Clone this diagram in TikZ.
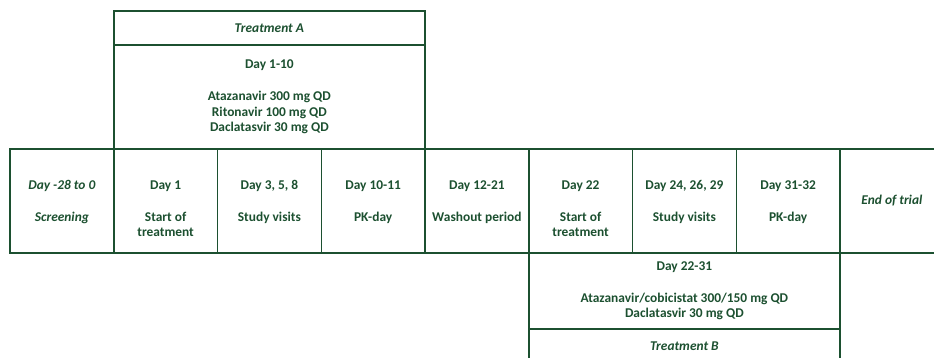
\documentclass[tikz,border=0pt]{standalone}
\usepackage{fontspec}
\setmainfont{Carlito}
\usetikzlibrary{positioning}
\definecolor{trialgreen}{RGB}{28,80,48}

\begin{document}
\begin{tikzpicture}[x=1pt,y=1pt,
    every node/.style={font=\fontsize{13.4}{15.8}\selectfont\bfseries,text=trialgreen,align=center},
    cell/.style={draw=trialgreen,line width=1.5pt,inner sep=0pt,outer sep=0pt,minimum width=103.75pt,minimum height=104pt},
    armbox/.style={cell,minimum width=311.25pt},
    celltext/.style={inner sep=0pt}]
  \useasboundingbox (0,0) rectangle (934,-358);
  \clip (0,0) rectangle (934,-358);
  \node[cell] (scr) at (61.875,-201) {};
  \node[cell,right=0pt of scr] (d1) {};
  \node[cell,right=0pt of d1] (d3) {};
  \node[cell,right=0pt of d3] (d10) {};
  \node[cell,right=0pt of d10] (wash) {};
  \node[cell,right=0pt of wash] (d22) {};
  \node[cell,right=0pt of d22] (d24) {};
  \node[cell,right=0pt of d24] (d31) {};
  \node[cell,right=0pt of d31] (eot) {\itshape End of trial};
  \node[celltext,below=31.5pt of scr.north] {\itshape Day -28 to 0\\[15.8pt]\itshape Screening};
  \node[celltext,below=31.5pt of d1.north] {Day 1\\[15.8pt]Start of\\treatment};
  \node[celltext,below=31.5pt of d3.north] {Day 3, 5, 8\\[15.8pt]Study visits};
  \node[celltext,below=31.5pt of d10.north] {Day 10-11\\[15.8pt]PK-day};
  \node[celltext,below=31.5pt of wash.north] {Day 12-21\\[15.8pt]Washout period};
  \node[celltext,below=31.5pt of d22.north] {Day 22\\[15.8pt]Start of\\treatment};
  \node[celltext,below=31.5pt of d24.north] {Day 24, 26, 29\\[15.8pt]Study visits};
  \node[celltext,below=31.5pt of d31.north] {Day 31-32\\[15.8pt]PK-day};
  % treatment A above, treatment B below
  \node[armbox,above=0pt of d3] (doseA) {Day 1-10\\[15.8pt]Atazanavir 300 mg QD\\Ritonavir 100 mg QD\\Daclatasvir 30 mg QD};
  \node[armbox,minimum height=34pt,above=0pt of doseA] (trtA) {\itshape Treatment A};
  \node[armbox,minimum height=76pt,below=0pt of d24] (doseB) {Day 22-31\\[15.8pt]Atazanavir/cobicistat 300/150 mg QD\\Daclatasvir 30 mg QD};
  \node[armbox,minimum height=34pt,below=0pt of doseB] (trtB) {\itshape Treatment B};
\end{tikzpicture}
\end{document}
